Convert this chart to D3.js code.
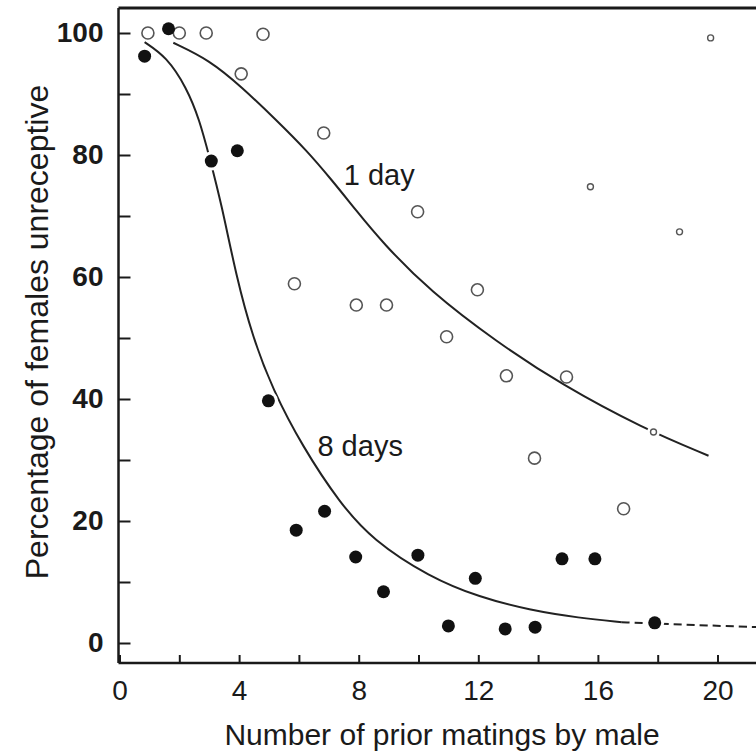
<!DOCTYPE html>
<html>
<head>
<meta charset="utf-8">
<script src="https://cdn.jsdelivr.net/npm/d3@7"></script>
<style>
  html, body { margin: 0; padding: 0; background: #fff; }
  svg { display: block; }
  text { font-family: "Liberation Sans", Arial, Helvetica, sans-serif; fill: #1a1a1a; }
</style>
</head>
<body>
<svg id="chart" width="756" height="755"></svg>
<script>
// ---- data ----
const xTicks = [0, 2, 4, 6, 8, 10, 12, 14, 16, 18, 20, 22];
const xTickLabels = [0, 4, 8, 12, 16, 20];
const yTicks = [0, 10, 20, 30, 40, 50, 60, 70, 80, 90, 100];
const yTickLabels = [0, 20, 40, 60, 80, 100];

// 1 day: open circles (large)
const oneDayX = [0.95, 2.0, 2.9, 4.8, 4.07, 6.83, 5.85, 7.92, 8.93, 9.97, 10.94, 11.97, 12.94, 14.95, 13.88, 16.86];
const oneDayY = [100, 100, 100, 99.8, 93.3, 83.6, 58.9, 55.4, 55.4, 70.7, 50.2, 57.9, 43.8, 43.6, 30.3, 22.0];
// 1 day: small open circles
const oneDaySmallX = [15.75, 17.86, 18.73, 19.77];
const oneDaySmallY = [74.8, 34.6, 67.4, 99.2];
// 8 days: filled circles
const eightDaysX = [0.84, 1.64, 3.07, 3.94, 4.98, 5.91, 6.86, 7.9, 8.83, 9.98, 11.0, 11.9, 12.9, 13.9, 14.8, 15.9, 17.9];
const eightDaysY = [96.2, 100.7, 79.0, 80.7, 39.7, 18.5, 21.6, 14.1, 8.4, 14.4, 2.8, 10.6, 2.3, 2.6, 13.8, 13.8, 3.3];

// fitted curves (traced)
const curveOneX = [1.8, 3.0, 4.1, 5.25, 6.25, 7.1, 7.9, 8.8, 10.4, 12.6, 14.8, 17.5, 19.7];
const curveOneY = [98.4, 95.6, 91.1, 85.7, 80.8, 75.9, 71.0, 65.6, 57.6, 49.4, 42.3, 35.2, 30.7];
const curveEightX = [0.84, 1.57, 2.24, 2.68, 3.0, 3.41, 3.91, 4.45, 5.12, 6.12, 7.36, 8.46, 10.37, 12.04, 13.71, 15.38, 16.8];
const curveEightY = [98.5, 96.1, 91.1, 85.7, 79.8, 72.0, 60.0, 50.2, 41.6, 32.2, 23.0, 16.9, 10.8, 7.5, 5.4, 4.1, 3.4];
const dashEightX = [16.8, 17.9, 19.5, 22];
const dashEightY = [3.4, 3.2, 2.9, 2.5];

const labels = [
  { text: "1 day", x: 7.5, y: 75.1 },
  { text: "8 days", x: 6.62, y: 30.7 }
];

// ---- layout ----
const svg = d3.select("#chart");
const W = 756, H = 755;
const x = d3.scaleLinear().domain([0, 22]).range([119.5, 119.5 + 22 * 29.9]);
const y = d3.scaleLinear().domain([0, 100]).range([643, 33]);
const axisLeftX = 118.5;
const axisBottomY = 663;
const topY = 8;

svg.append("rect").attr("width", W).attr("height", H).attr("fill", "#fff");

// frame lines
svg.append("line").attr("x1", axisLeftX).attr("x2", W + 10).attr("y1", topY).attr("y2", topY)
  .attr("stroke", "#1a1a1a").attr("stroke-width", 3);

// x axis
const xAxis = d3.axisBottom(x)
  .tickValues(xTicks)
  .tickSizeInner(-8)
  .tickSizeOuter(0)
  .tickPadding(17)
  .tickFormat(d => xTickLabels.includes(d) ? d : "");
const gx = svg.append("g").attr("transform", `translate(0,${axisBottomY})`).call(xAxis);
gx.select(".domain").attr("stroke", "#1a1a1a").attr("stroke-width", 2.5)
  .attr("d", `M${axisLeftX},0H${W + 10}`);
gx.selectAll(".tick line").attr("stroke", "#1a1a1a").attr("stroke-width", 2);
gx.selectAll(".tick text").attr("font-size", 28).attr("fill", "#1a1a1a")
  .attr("font-family", "'Liberation Sans', Arial, sans-serif");

// y axis
const yAxis = d3.axisLeft(y)
  .tickValues(yTicks)
  .tickSizeInner(-12)
  .tickSizeOuter(0)
  .tickPadding(15)
  .tickFormat(d => yTickLabels.includes(d) ? d : "");
const gy = svg.append("g").attr("transform", `translate(${axisLeftX},0)`).call(yAxis);
gy.select(".domain").attr("stroke", "#1a1a1a").attr("stroke-width", 2.5)
  .attr("d", `M0,${topY}V${axisBottomY}`);
gy.selectAll(".tick line").attr("stroke", "#1a1a1a").attr("stroke-width", 2);
gy.selectAll(".tick text").attr("font-size", 28).attr("font-weight", "bold").attr("fill", "#1a1a1a")
  .attr("font-family", "'Liberation Sans', Arial, sans-serif");

// axis titles
svg.append("text")
  .attr("x", 442).attr("y", 745)
  .attr("text-anchor", "middle")
  .attr("font-size", 30)
  .text("Number of prior matings by male");
svg.append("text")
  .attr("transform", `translate(48,332) rotate(-90)`)
  .attr("text-anchor", "middle")
  .attr("font-size", 32)
  .text("Percentage of females unreceptive");

// curves
const line = d3.line().x(d => x(d[0])).y(d => y(d[1])).curve(d3.curveBasis);
svg.append("path").datum(d3.zip(curveOneX, curveOneY)).attr("d", line)
  .attr("fill", "none").attr("stroke", "#222").attr("stroke-width", 2);
svg.append("path").datum(d3.zip(curveEightX, curveEightY)).attr("d", line)
  .attr("fill", "none").attr("stroke", "#222").attr("stroke-width", 2);
svg.append("path").datum(d3.zip(dashEightX, dashEightY)).attr("d", line)
  .attr("fill", "none").attr("stroke", "#222").attr("stroke-width", 2)
  .attr("stroke-dasharray", "8,5");

// halos (white gaps where the lines meet markers)
const filled = d3.zip(eightDaysX, eightDaysY);
const openBig = d3.zip(oneDayX, oneDayY);
const openSmall = d3.zip(oneDaySmallX, oneDaySmallY);
svg.append("g").selectAll("circle").data(filled).join("circle")
  .attr("cx", d => x(d[0])).attr("cy", d => y(d[1])).attr("r", 9.5).attr("fill", "#fff");
svg.append("g").selectAll("circle").data(openSmall).join("circle")
  .attr("cx", d => x(d[0])).attr("cy", d => y(d[1])).attr("r", 6.5).attr("fill", "#fff");

// markers
svg.append("g").selectAll("circle").data(openBig).join("circle")
  .attr("cx", d => x(d[0])).attr("cy", d => y(d[1])).attr("r", 6)
  .attr("fill", "#fff").attr("stroke", "#555").attr("stroke-width", 1.6);
svg.append("g").selectAll("circle").data(openSmall).join("circle")
  .attr("cx", d => x(d[0])).attr("cy", d => y(d[1])).attr("r", 3)
  .attr("fill", "#fff").attr("stroke", "#555").attr("stroke-width", 1.4);
svg.append("g").selectAll("circle").data(filled).join("circle")
  .attr("cx", d => x(d[0])).attr("cy", d => y(d[1])).attr("r", 6.5)
  .attr("fill", "#111");

// curve labels
svg.append("g").selectAll("text").data(labels).join("text")
  .attr("x", d => x(d.x)).attr("y", d => y(d.y))
  .attr("font-size", 29)
  .text(d => d.text);
</script>
</body>
</html>
